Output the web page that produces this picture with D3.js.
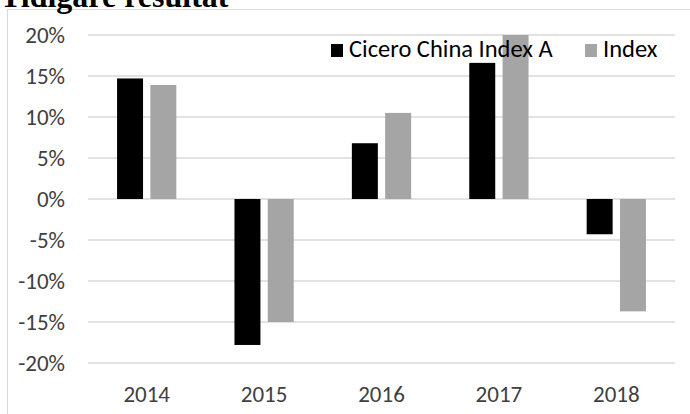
<!DOCTYPE html>
<html>
<head>
<meta charset="utf-8">
<script src="https://cdn.jsdelivr.net/npm/d3@7"></script>
<style>
  body { margin: 0; background: #fff; }
  svg { display: block; }
</style>
</head>
<body>
<svg width="690" height="414"></svg>
<script>
// values (percent)
years = ["2014", "2015", "2016", "2017", "2018"];
cicero = [14.7, -17.8, 6.8, 16.6, -4.3];
indexVals = [13.9, -15.0, 10.5, 20.0, -13.7];
seriesNames = ["Cicero China Index A", "Index"];
seriesColors = ["#000000", "#a5a5a5"];
yTicks = [-20, -15, -10, -5, 0, 5, 10, 15, 20];

const svg = d3.select("svg");
const font = "Calibri, Carlito, 'Open Sans', sans-serif";

// chart frame, cut off at right and bottom like the source
svg.append("rect")
    .attr("x", 7.5).attr("y", 9.5)
    .attr("width", 700).attr("height", 420)
    .attr("fill", "#fff")
    .attr("stroke", "#d9d9d9");

// title, mostly clipped at the top
svg.append("text")
    .attr("x", 0).attr("y", 7)
    .style("font", "bold 32px 'Liberation Serif', serif")
    .text("Tidigare resultat");

const x = d3.scaleBand()
    .domain(years)
    .range([88, 675]);

const y = d3.scaleLinear()
    .domain([-20, 20])
    .range([363, 35]);

const x1 = d3.scaleBand()
    .domain([0, 1])
    .range([0, x.bandwidth()])
    .paddingInner(0.22)
    .paddingOuter(0.873);

// grid
svg.append("g")
  .selectAll("line")
  .data(yTicks)
  .join("line")
    .attr("x1", 88).attr("x2", 675)
    .attr("y1", d => y(d))
    .attr("y2", d => y(d))
    .attr("stroke", "#d9d9d9")
    .attr("stroke-width", 1.5);

// y labels
svg.append("g")
    .style("font", "23px " + font)
    .attr("fill", "#404040")
    .attr("text-anchor", "end")
  .selectAll("text")
  .data(yTicks)
  .join("text")
    .attr("x", 65)
    .attr("y", d => y(d) + 7.5)
    .text(d => d + "%");

// x labels
svg.append("g")
    .style("font", "23px " + font)
    .attr("fill", "#404040")
    .attr("text-anchor", "middle")
  .selectAll("text")
  .data(years)
  .join("text")
    .attr("x", d => x(d) + x.bandwidth() / 2)
    .attr("y", 401.5)
    .text(d => d);

// bars
const series = [cicero, indexVals];
series.forEach(function(vals, i) {
  svg.append("g")
      .attr("fill", seriesColors[i])
    .selectAll("rect")
    .data(vals)
    .join("rect")
      .attr("x", (d, j) => x(years[j]) + x1(i))
      .attr("width", x1.bandwidth())
      .attr("y", d => y(Math.max(0, d)))
      .attr("height", d => Math.abs(y(d) - y(0)));
});

// legend
const legendX = [331, 585];
const legend = svg.append("g")
  .selectAll("g")
  .data(seriesNames)
  .join("g")
    .attr("transform", (d, i) => `translate(${legendX[i]},44)`);
legend.append("rect")
    .attr("width", 12).attr("height", 13)
    .attr("fill", (d, i) => seriesColors[i]);
legend.append("text")
    .attr("x", 18).attr("y", 13)
    .style("font", "24.5px " + font)
    .attr("fill", "#000")
    .text(d => d);
</script>
</body>
</html>
